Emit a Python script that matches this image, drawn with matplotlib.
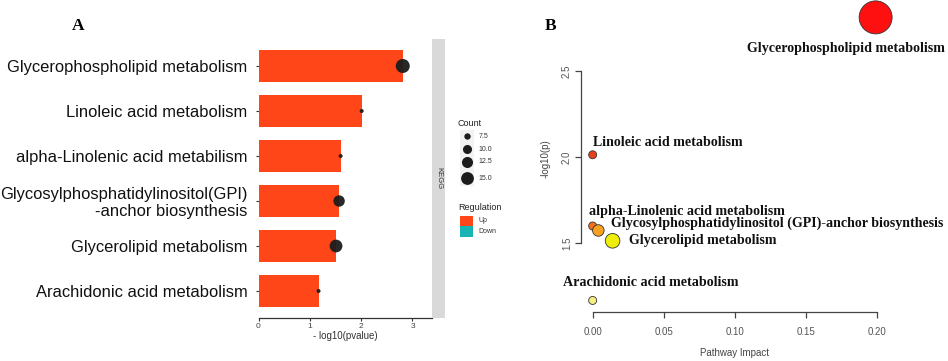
import numpy as np
import matplotlib
matplotlib.use("Agg")
import matplotlib.pyplot as plt
from matplotlib.patches import Rectangle
from matplotlib.transforms import ScaledTranslation

# ---------------- data ----------------
pathways_a = ["Glycerophospholipid metabolism", "Linoleic acid metabolism",
              "alpha-Linolenic acid metabilism",
              "Glycosylphosphatidylinositol(GPI)\n-anchor biosynthesis",
              "Glycerolipid metabolism", "Arachidonic acid metabolism"]
neglog_p = [2.81, 2.01, 1.60, 1.57, 1.51, 1.17]
counts = [17, 6, 6, 13, 15, 6]
count_breaks = [7.5, 10.0, 12.5, 15.0]
regulation = ["Up", "Down"]
xticks_a = [0, 1, 2, 3]

pathways_b = ["Glycerophospholipid metabolism", "Linoleic acid metabolism",
              "alpha-Linolenic acid metabolism",
              "Glycosylphosphatidylinositol (GPI)-anchor biosynthesis",
              "Glycerolipid metabolism", "Arachidonic acid metabolism"]
impact = [0.199, 0.0, 0.0, 0.004, 0.014, 0.0]
neglog_p_b = [2.81, 2.013, 1.60, 1.574, 1.514, 1.168]
xticks_b = [0.00, 0.05, 0.10, 0.15, 0.20]
yticks_b = [1.5, 2.0, 2.5]

# ---------------- styles ----------------
W, H = 948, 361
fig = plt.figure(figsize=(W / 100, H / 100), dpi=100)

def px_axes(x0, y0, x1, y1, **kw):
    return fig.add_axes([x0 / W, 1 - y1 / H, (x1 - x0) / W, (y1 - y0) / H], **kw)

BAR = "#FF4619"
TEAL = "#1AB3B3"
DOT = "#1c1c1c"
SANS = ["Liberation Sans", "DejaVu Sans"]
SERIF = ["Liberation Serif", "DejaVu Serif"]

def size_px(c, cmin=6, cmax=17, dmin=4.0, dmax=14.0):
    # area-linear size scale (ggplot-like)
    a = dmin ** 2 + (c - cmin) / (cmax - cmin) * (dmax ** 2 - dmin ** 2)
    return np.sqrt(a)

def s_pt2(d_px):
    return (d_px * 72 / 100) ** 2

# ---------------- Panel A ----------------
axA = px_axes(258.5, 39, 432, 318)
ypos = np.arange(len(pathways_a))[::-1]
axA.barh(ypos, neglog_p, height=0.73, color=BAR, zorder=2)
axA.scatter(neglog_p, ypos, s=[s_pt2(size_px(c)) for c in counts],
            color=DOT, alpha=0.95, zorder=3, linewidths=0)
axA.set_xlim(0, 3.38)
axA.set_ylim(-0.6, len(pathways_a) - 0.4)
axA.set_yticks(ypos)
axA.set_yticklabels(pathways_a, fontsize=11.9, family=SANS, color="#111111",
                    linespacing=1.1)
for lab in axA.get_yticklabels():
    if "\n" in lab.get_text():
        lab.set_transform(lab.get_transform() +
                          ScaledTranslation(0, 6 / 100, fig.dpi_scale_trans))
axA.set_xticks(xticks_a)
axA.set_xticklabels([str(t) for t in xticks_a], fontsize=6, family=SANS,
                    color="#444444")
axA.tick_params(axis="y", length=2, width=0.8, pad=6, color="#333333")
axA.tick_params(axis="x", length=2, width=0.8, pad=1.5, color="#333333")
for sp in ["top", "right", "left"]:
    axA.spines[sp].set_visible(False)
axA.spines["bottom"].set_color("#333333")
axA.spines["bottom"].set_linewidth(0.9)
axA.set_xlabel("- log10(pvalue)", fontsize=7, family=SANS, color="#333333",
               labelpad=1)

# strip
axS = px_axes(432, 39, 445, 318)
axS.set_facecolor("#D9D9D9")
axS.set_xticks([]); axS.set_yticks([])
for sp in axS.spines.values():
    sp.set_visible(False)
axS.text(0.5, 0.5, "KEGG", rotation=270, ha="center", va="center",
         fontsize=5.5, family=SANS, color="#333333", transform=axS.transAxes)

# legend axes (pixel coordinates)
axL = px_axes(452, 110, 510, 245)
axL.set_xlim(452, 510)
axL.set_ylim(245, 110)
axL.axis("off")
axL.text(458, 124, "Count", fontsize=6.5, family=SANS, color="#222222",
         va="center", ha="left")
axL.add_patch(Rectangle((460, 130), 14, 56, color="#F2F2F2", lw=0))
leg_y = [136, 149.3, 161.7, 178.3]
for b, yy in zip(count_breaks, leg_y):
    axL.scatter([467], [yy], s=s_pt2(size_px(b)), color=DOT,
                linewidths=0, zorder=3)
    axL.text(478.5, yy, f"{b:.1f}", fontsize=5, family=SANS,
             color="#333333", va="center", ha="left")
axL.text(458, 207, "Regulation", fontsize=6.5, family=SANS, color="#222222",
         va="center", ha="left")
for lab, col, y0 in zip(regulation, [BAR, TEAL], [215.5, 226]):
    axL.add_patch(Rectangle((460, y0), 13, 10.5, color=col, lw=0))
    axL.text(478.5, y0 + 5.5, lab, fontsize=5, family=SANS, color="#333333",
             va="center", ha="left")

fig.text(78 / W, 1 - 26 / H, "A", fontsize=12.5, family=SERIF,
         fontweight="bold", ha="center", va="center")

# ---------------- Panel B ----------------
axB = px_axes(581, 6, 887, 312)
colors_b = ["#FF1010", "#E8401A", "#F07020", "#F8A020", "#EEEE08", "#F5EE80"]
diam = [8 + 56 * np.sqrt(v) for v in impact]
axB.scatter(impact, neglog_p_b, s=[s_pt2(d) for d in diam], c=colors_b,
            edgecolors="#333333", linewidths=0.6, zorder=3, clip_on=False)
axB.set_xlim(-0.0082, 0.207)
axB.set_ylim(1.101, 2.876)
for sp in ["top", "right"]:
    axB.spines[sp].set_visible(False)
axB.spines["left"].set_bounds(1.5, 2.5)
axB.spines["bottom"].set_bounds(0.0, 0.2)
for sp in ["left", "bottom"]:
    axB.spines[sp].set_color("#444444")
    axB.spines[sp].set_linewidth(0.9)
axB.set_xticks(xticks_b)
axB.set_xticklabels([f"{t:.2f}" for t in xticks_b], fontsize=7,
                    family=SANS, color="#555555")
axB.set_yticks(yticks_b)
axB.set_yticklabels([f"{t:.1f}" for t in yticks_b], fontsize=7,
                    family=SANS, color="#555555", rotation=90, va="center")
axB.tick_params(axis="x", length=4.5, width=0.9, color="#444444", pad=6)
axB.tick_params(axis="y", length=4.5, width=0.9, color="#444444", pad=2)
axB.set_xlabel("Pathway Impact", fontsize=7, family=SANS, color="#444444",
               labelpad=8.5)
axB.set_ylabel("-log10(p)", fontsize=7, family=SANS, color="#444444",
               labelpad=8)

# label offsets in pixels (dx, dy) and horizontal alignment
lab_off = [(-30, -31, "center"), (0, 12.3, "left"), (-4, 14.7, "left"),
           (12.7, 6.7, "left"), (16, 0.3, "left"), (-30, 18, "left")]
for name, xv, yv, (dx, dy, ha) in zip(pathways_b, impact, neglog_p_b, lab_off):
    axB.annotate(name, (xv, yv), xytext=(dx, dy), textcoords="offset pixels",
                 ha=ha, va="center", fontsize=10.1, family=SERIF,
                 fontweight="bold", color="#111111", annotation_clip=False)

fig.text(551 / W, 1 - 26 / H, "B", fontsize=12.5, family=SERIF,
         fontweight="bold", ha="center", va="center")

fig.savefig("out.png", dpi=100)
